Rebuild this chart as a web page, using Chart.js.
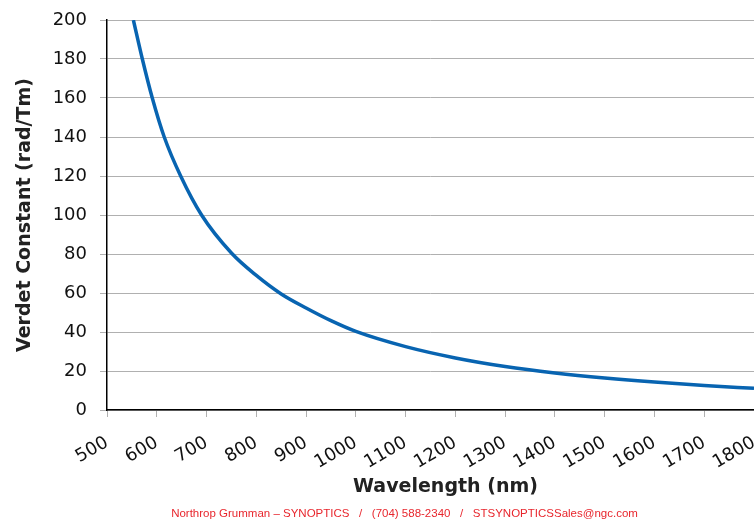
<!DOCTYPE html>
<html lang="en">
  <head>
    <meta charset="UTF-8" />
    <title>Verdet Constant vs Wavelength</title>
    <script src="https://cdn.jsdelivr.net/npm/chart.js"></script>
    <style>
      html, body { margin: 0; padding: 0; background: #fff; }
      #wrap { width: 754px; height: 522px; }
    </style>
  </head>
  <body>
    <div id="wrap"><canvas id="verdetChart"></canvas></div>
    <script>
      // values
      const wavelengths = [553, 571, 591, 615, 648, 690, 750, 800, 850, 900, 950, 1000, 1100, 1200, 1300, 1400, 1500, 1600, 1700, 1800];
      const verdet = [200, 180, 160, 140, 120, 100, 80.5, 69, 59.5, 52.3, 45.8, 40.3, 32.5, 26.7, 22.3, 19, 16.4, 14.3, 12.6, 11.1];
      const xTicks = [500, 600, 700, 800, 900, 1000, 1100, 1200, 1300, 1400, 1500, 1600, 1700, 1800];
      const yTicks = [0, 20, 40, 60, 80, 100, 120, 140, 160, 180, 200];
      const xTitle = 'Wavelength (nm)';
      const yTitle = 'Verdet Constant (rad/Tm)';
      const footer = 'Northrop Grumman \u2013 SYNOPTICS   /   (704) 588-2340   /   STSYNOPTICSSales@ngc.com';

      const points = wavelengths.map((w, i) => ({ x: w, y: verdet[i] }));
      const tickFont = { family: 'DejaVu Sans', size: 18 };

      // x title sits a bit right of the plot centre in the original, footer below it
      const bottomText = {
        id: 'bottomText',
        afterDraw(chart) {
          const ctx = chart.ctx;
          const area = chart.chartArea;
          const mid = (area.left + area.right) / 2;
          ctx.save();
          ctx.textAlign = 'center';
          ctx.textBaseline = 'middle';
          ctx.fillStyle = '#222';
          ctx.font = 'bold 19px "DejaVu Sans"';
          ctx.fillText(xTitle, mid + 15, area.bottom + 77);
          ctx.fillStyle = '#e8262d';
          ctx.font = '11.5px "Liberation Sans"';
          ctx.fillText(footer, mid - 26, area.bottom + 104);
          ctx.restore();
        }
      };

      new Chart(document.getElementById('verdetChart'), {
        type: 'line',
        data: {
          datasets: [{
            data: points,
            borderColor: '#0864b1',
            borderWidth: 3.5,
            pointRadius: 0,
            cubicInterpolationMode: 'monotone',
            fill: false
          }]
        },
        options: {
          responsive: true,
          maintainAspectRatio: false,
          animation: false,
          layout: { padding: { top: 20, right: 0, left: 0, bottom: 0 } },
          plugins: {
            legend: { display: false },
            tooltip: { enabled: false }
          },
          scales: {
            x: {
              type: 'linear',
              min: 500,
              max: 1800,
              afterBuildTicks: (scale) => { scale.ticks = xTicks.map(v => ({ value: v })); },
              afterFit: (scale) => {
                scale.height = 112;
                scale.paddingRight = 0;
              },
              ticks: {
                color: '#111',
                font: tickFont,
                minRotation: 30,
                maxRotation: 30,
                padding: 15,
                callback: (v) => String(v)
              },
              grid: {
                drawOnChartArea: false,
                color: '#b0b0b0',
                tickLength: 7
              },
              border: { color: '#000', width: 1.5 }
            },
            y: {
              min: 0,
              max: 200,
              afterBuildTicks: (scale) => { scale.ticks = yTicks.map(v => ({ value: v })); },
              afterFit: (scale) => {
                scale.width = 107;
                scale.paddingTop = 0;
                scale.paddingBottom = 0;
              },
              ticks: {
                color: '#111',
                font: tickFont,
                padding: 13,
                callback: (v) => String(v)
              },
              grid: {
                color: '#b0b0b0',
                lineWidth: 1,
                tickLength: 7
              },
              border: { color: '#000', width: 1.5 },
              title: {
                display: true,
                text: yTitle,
                color: '#222',
                font: { family: 'DejaVu Sans', size: 19, weight: 'bold' },
                padding: { top: 14, bottom: 0 }
              }
            }
          }
        },
        plugins: [bottomText]
      });
    </script>
  </body>
</html>
